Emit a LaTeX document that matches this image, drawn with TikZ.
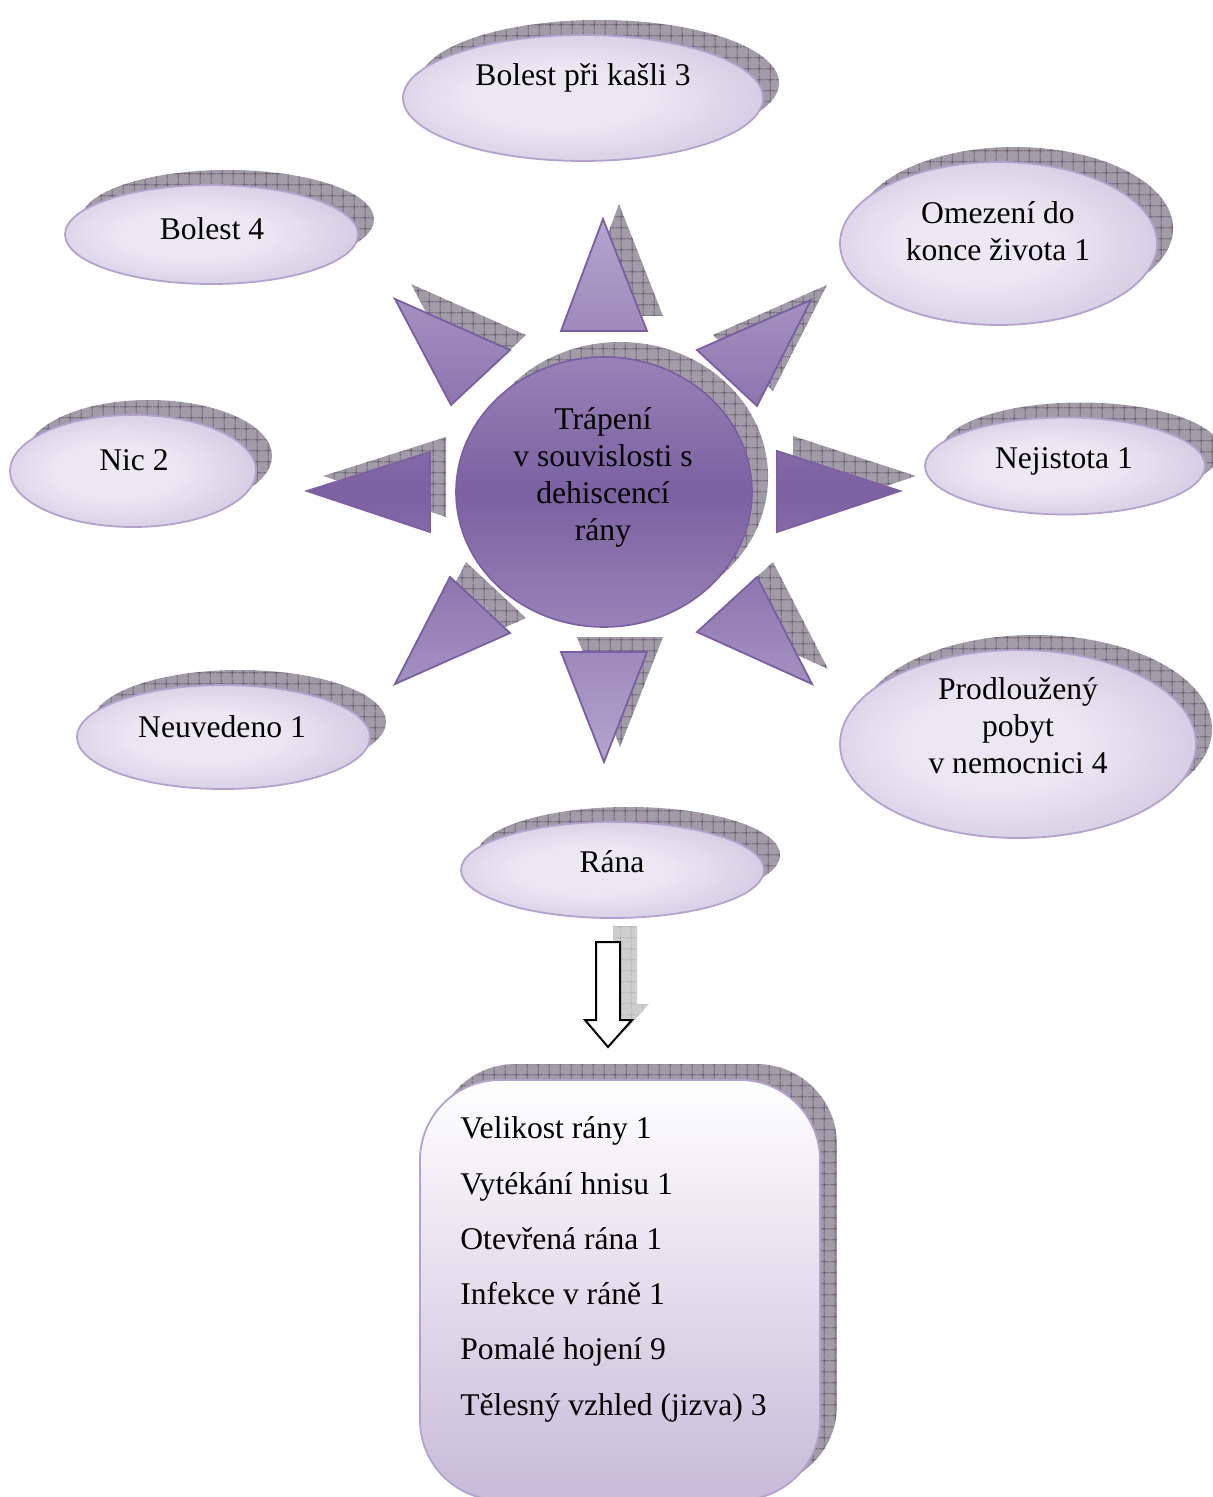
\documentclass[tikz,border=0pt]{standalone}
\usepackage{fontspec}
\setmainfont{Liberation Serif}
\usetikzlibrary{shapes.geometric,patterns.meta,calc}

\definecolor{sunlight}{RGB}{180,165,206}
\definecolor{sundark}{RGB}{124,96,161}
\definecolor{rayline}{RGB}{122,94,164}
\definecolor{bubhi}{RGB}{236,232,243}
\definecolor{bublo}{RGB}{186,171,209}
\definecolor{bubline}{RGB}{180,162,206}
\definecolor{boxlow}{RGB}{200,186,217}
\definecolor{shbase}{RGB}{162,156,168}
\definecolor{shgrid}{RGB}{68,56,80}
\definecolor{arrbase}{RGB}{206,206,206}
\definecolor{arrgrid}{RGB}{165,165,165}

% soft lavender fill of the bubbles
\pgfdeclareradialshading{bubbleshade}{\pgfpoint{-4bp}{0bp}}{%
  color(0bp)=(bubhi); color(12bp)=(bubhi); color(48bp)=(bublo); color(70bp)=(bublo)}

% square grid laid over the drop shadows
\tikzdeclarepattern{
  name=shadowgrid, type=uncolored,
  bounding box={(0pt,0pt) and (5.3pt,5.3pt)},
  tile size={(5.3pt,5.3pt)},
  code={\draw[line width=0.35pt] (0pt,2.65pt) -- (5.3pt,2.65pt) (2.65pt,0pt) -- (2.65pt,5.3pt);}
}

\pgfdeclarelayer{background}
\pgfsetlayers{background,main}

% one ray of the sun: shadow behind, shaded triangle in front
\newcommand\sunray[4]{%
  \begin{pgfonlayer}{background}
    \path[shadowfill, shadowshift] (#1) -- (#2) -- (#3) -- cycle;
  \end{pgfonlayer}
  \path[raystyle, #4] (#1) -- (#2) -- (#3) -- cycle;}

\begin{document}
\begin{tikzpicture}[x=0.5pt, y=-0.5pt,
  font=\fontsize{15.8}{18.5}\selectfont,
  shadowfill/.style={fill=shbase, postaction={pattern=shadowgrid, pattern color=shgrid}},
  arrowshadow/.style={fill=arrbase, postaction={pattern=shadowgrid, pattern color=arrgrid}},
  shadowshift/.style={transform canvas={xshift=8pt, yshift=7.5pt}},
  bubble/.style={ellipse, draw=bubline, line width=0.9pt, shade, shading=bubbleshade, inner sep=0pt},
  raystyle/.style={draw=rayline, line width=0.9pt, line join=miter},
  lbl/.style={inner sep=0pt, align=center},
  listitem/.style={anchor=base west, inner sep=0pt}]

\useasboundingbox (0,0) rectangle (1213,1497);

% ---- bubbles around the sun ----
\node[bubble, minimum width=180pt, minimum height=63pt] (cough) at (583,98) {};
\node[bubble, minimum width=146.5pt, minimum height=49.5pt] (pain) at (211.5,234.5) {};
\node[bubble, minimum width=158.5pt, minimum height=81.5pt] (limit) at (998.5,243.5) {};
\node[bubble, minimum width=123pt, minimum height=56pt] (nothing) at (133,471) {};
\node[bubble, minimum width=140pt, minimum height=48.5pt] (unsure) at (1065,466) {};
\node[bubble, minimum width=146.5pt, minimum height=52pt] (unstated) at (223.5,737) {};
\node[bubble, minimum width=178pt, minimum height=94pt] (stay) at (1018,744) {};
\node[bubble, minimum width=151.5pt, minimum height=48pt] (wound) at (612.5,870) {};

\begin{pgfonlayer}{background}
  \foreach \n/\rx/\ry in {cough/90/31.5, pain/73.25/24.75, limit/79.25/40.75, nothing/61.5/28,
                          unsure/70/24.25, unstated/73.25/26, stay/89/47, wound/75.75/24}{
    \path[shadowfill, shadowshift] (\n.center) ellipse [x radius=\rx pt, y radius=\ry pt];
  }
\end{pgfonlayer}

% ---- the sun ----
\node[ellipse, draw=rayline, line width=0.8pt, minimum width=148pt, minimum height=135pt,
      inner sep=0pt, top color=sundark!50!sunlight, bottom color=sundark!50!sunlight,
      middle color=sundark] (core) at (604,492) {};
\begin{pgfonlayer}{background}
  \path[shadowfill, shadowshift] (core.center) ellipse [x radius=74pt, y radius=67.5pt];
\end{pgfonlayer}

\sunray{603,219}{647,331}{561,331}{top color=sunlight, bottom color=sundark!40!sunlight}
\sunray{395,299}{510,350}{451,405}{top color=sundark!29!sunlight, bottom color=sundark!69!sunlight}
\sunray{811,300}{757,406}{697,350}{top color=sundark!29!sunlight, bottom color=sundark!69!sunlight}
\sunray{307,491}{430,452}{430,532}{draw=sundark, top color=sundark!86!sunlight, bottom color=sundark!85!sunlight, middle color=sundark}
\sunray{777,451}{900,491}{777,532}{draw=sundark, top color=sundark!86!sunlight, bottom color=sundark!85!sunlight, middle color=sundark}
\sunray{450,577}{510,633}{395,684}{top color=sundark!68!sunlight, bottom color=sundark!29!sunlight}
\sunray{757,577}{812,684}{697,632}{top color=sundark!68!sunlight, bottom color=sundark!29!sunlight}
\sunray{561,652}{647,652}{604,762}{top color=sundark!40!sunlight, bottom color=sunlight}

% ---- list box ----
\node[draw=bubline, line width=0.9pt, rounded corners=40pt, minimum width=200pt,
      minimum height=210pt, inner sep=0pt, top color=white, bottom color=boxlow] (box) at (620,1290) {};
\begin{pgfonlayer}{background}
  \path[shadowfill, shadowshift, rounded corners=40pt] (box.south west) rectangle (box.north east);
\end{pgfonlayer}

% ---- block arrow from the wound bubble down to the list ----
\coordinate (arrtop) at (608,942);
\coordinate (arrtip) at (608,1047);
\begin{pgfonlayer}{background}
  \path[arrowshadow, transform canvas={xshift=8.5pt, yshift=8pt}]
    ($(arrtop)+(-12,0)$) -- ($(arrtop)+(12,0)$) -- ($(arrtip)+(12,-27)$) -- ($(arrtip)+(24,-27)$)
    -- (arrtip) -- ($(arrtip)+(-23,-27)$) -- ($(arrtip)+(-12,-27)$) -- cycle;
\end{pgfonlayer}
\draw[fill=white, line width=1pt, line join=miter]
  ($(arrtop)+(-12,0)$) -- ($(arrtop)+(12,0)$) -- ($(arrtip)+(12,-27)$) -- ($(arrtip)+(24,-27)$)
  -- (arrtip) -- ($(arrtip)+(-23,-27)$) -- ($(arrtip)+(-12,-27)$) -- cycle;

% ---- texts ----
\node[lbl, anchor=base] (cough-t) at (583,86) {Bolest při kašli 3};
\node[lbl, anchor=base] (pain-t) at (212,240) {Bolest 4};
\node[lbl] (limit-t) at (998,231) {Omezení do\\konce života 1};
\node[lbl, anchor=base] (nothing-t) at (134,470) {Nic 2};
\node[lbl, anchor=base] (unsure-t) at (1064,468) {Nejistota 1};
\node[lbl] (core-t) at (603,477) {Trápení\\v souvislosti s\\dehiscencí\\rány};
\node[lbl, anchor=base] (unstated-t) at (222,737) {Neuvedeno 1};
\node[lbl] (stay-t) at (1018,726) {Prodloužený\\pobyt\\v nemocnici 4};
\node[lbl, anchor=base] (wound-t) at (612,872) {Rána};

\node[listitem] (item1) at (460,1138) {Velikost rány 1};
\node[listitem] (item2) at (460,1194) {Vytékání hnisu 1};
\node[listitem] (item3) at (460,1249) {Otevřená rána 1};
\node[listitem] (item4) at (460,1304) {Infekce v ráně 1};
\node[listitem] (item5) at (460,1359) {Pomalé hojení 9};
\node[listitem] (item6) at (460,1415) {Tělesný vzhled (jizva) 3};

\end{tikzpicture}
\end{document}
